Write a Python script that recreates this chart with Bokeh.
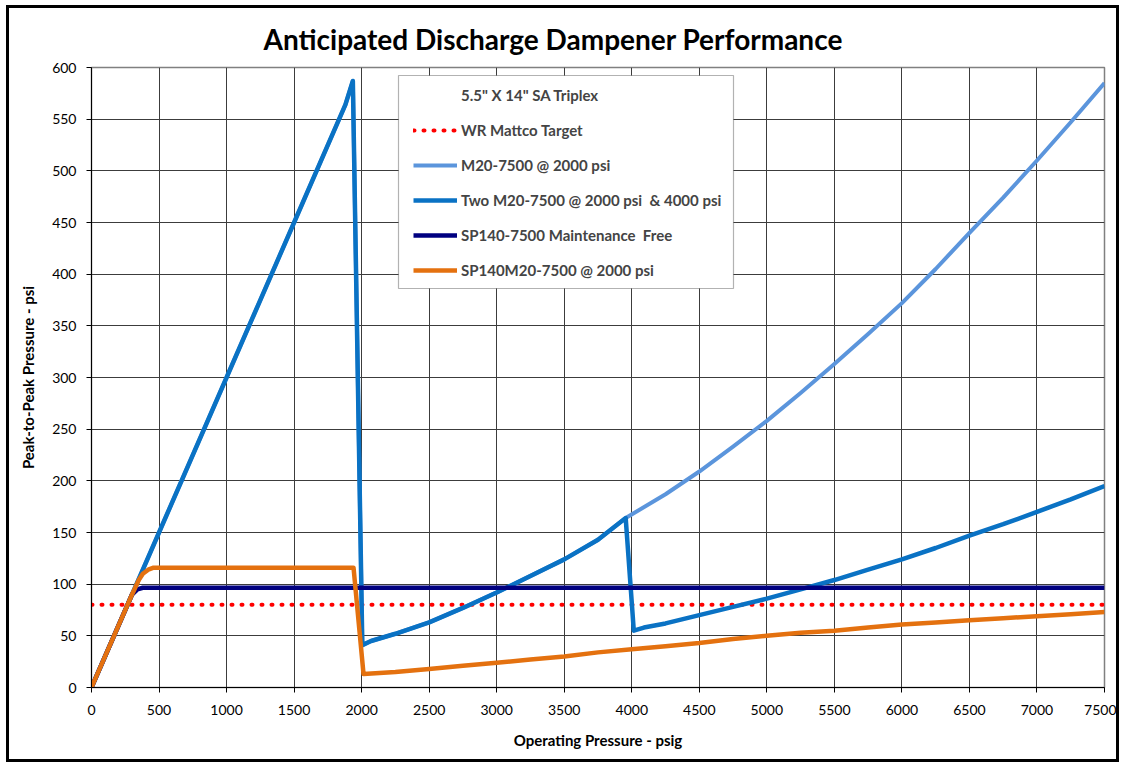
from bokeh.plotting import figure
from bokeh.models import (Range1d, FixedTicker, Legend, LegendItem, BoxAnnotation)
from bokeh.embed import file_html
from bokeh.resources import INLINE

# ---- data ----
target_x = [0, 7500]
target_y = [80, 80]

m20_x = [0, 500, 1000, 1500, 1880, 1935, 2005, 2070, 2250, 2500, 2750, 3000, 3250, 3500, 3750, 3955,
         4250, 4500, 4750, 5000, 5250, 5500, 5750, 6000, 6250, 6500, 6750, 7000, 7250, 7500]
m20_y = [0, 150, 300, 450, 564, 587, 41, 45, 52, 63, 77, 92, 108, 124, 143, 164,
         187, 209, 233, 258, 285, 313, 342, 372, 405, 440, 474, 510, 547, 585]

two_x = [0, 500, 1000, 1500, 1880, 1935, 2005, 2070, 2250, 2500, 2750, 3000, 3250, 3500, 3750, 3955,
         4015, 4090, 4250, 4500, 4750, 5000, 5250, 5500, 5750, 6000, 6250, 6500, 6750, 7000, 7250, 7500]
two_y = [0, 150, 300, 450, 564, 587, 41, 45, 52, 63, 77, 92, 108, 124, 143, 164,
         55, 58, 62, 70, 78, 86, 95, 104, 114, 124, 135, 147, 158, 170, 182, 195]

sp_x = [0, 300, 340, 380, 420, 7500]
sp_y = [0, 90, 95, 96.5, 96.5, 96.5]

spm_x = [0, 300, 350, 380, 420, 460, 500, 1940, 2014, 2250, 2500, 2750, 3000, 3250, 3500, 3750, 4000,
         4250, 4500, 4750, 5000, 5250, 5500, 5750, 6000, 6250, 6500, 6750, 7000, 7250, 7500]
spm_y = [0, 90, 104, 110, 114, 116, 116, 116, 13, 15, 18, 21, 24, 27, 30, 34, 37,
         40, 43, 47, 50, 53, 55, 58, 61, 63, 65, 67, 69, 71, 73]

x_ticks = list(range(0, 7501, 500))
y_ticks = list(range(0, 601, 50))

title_text = "Anticipated Discharge Dampener Performance"
legend_title = '5.5" X 14" SA Triplex'
labels = ["WR Mattco Target", "M20-7500 @ 2000 psi", "Two M20-7500 @ 2000 psi  & 4000 psi",
          "SP140-7500 Maintenance  Free", "SP140M20-7500 @ 2000 psi"]
x_label = "Operating Pressure - psig"
y_label = "Peak-to-Peak Pressure - psi"

FONT = "Lato"

p = figure(width=1113, height=757, output_backend="svg", toolbar_location=None,
           x_range=Range1d(0, 7500), y_range=Range1d(0, 600),
           min_border_left=82, min_border_right=18, min_border_top=59, min_border_bottom=78,
           title=title_text,
           styles={"border": "3px solid black", "margin": "5px 0px 0px 6px"})

p.title.text_font = FONT
p.title.text_font_size = "28px"
p.title.text_font_style = "bold"
p.title.text_color = "black"
p.title.align = "left"
p.title.offset = 172
p.title.standoff = 23

p.outline_line_color = "#808080"
p.outline_line_width = 1.5

p.xaxis.ticker = FixedTicker(ticks=x_ticks)
p.yaxis.ticker = FixedTicker(ticks=y_ticks)
for ax in (p.xaxis, p.yaxis):
    ax.major_label_text_font = FONT
    ax.major_label_text_font_size = "14px"
    ax.major_label_text_color = "black"
    ax.axis_line_color = "black"
    ax.major_tick_line_color = "black"
    ax.minor_tick_line_color = None
    ax.major_tick_in = 0
    ax.major_tick_out = 5
    ax.axis_label_text_font = FONT
    ax.axis_label_text_font_size = "15px"
    ax.axis_label_text_font_style = "bold"
    ax.axis_label_text_color = "black"
p.xaxis.major_label_standoff = 12
p.yaxis.major_label_standoff = 10
p.xaxis.axis_label = x_label
p.yaxis.axis_label = y_label
p.xaxis.axis_label_standoff = 13
p.yaxis.axis_label_standoff = 12

p.xgrid.ticker = FixedTicker(ticks=x_ticks)
p.ygrid.ticker = FixedTicker(ticks=y_ticks)
p.grid.grid_line_color = "#3c3c3c"
p.grid.grid_line_width = 1
p.grid.grid_line_alpha = 1

r_title = p.line([], [], line_alpha=0)
r_t = p.line(target_x, target_y, line_color="#FF0000", line_width=4, line_dash="1 9", line_cap="round")
r_m20 = p.line(m20_x, m20_y, line_color="#5B95DC", line_width=4, line_join="round")
r_two = p.line(two_x, two_y, line_color="#0A72C4", line_width=4.5, line_join="round")
r_sp = p.line(sp_x, sp_y, line_color="#000080", line_width=4.5, line_join="round")
r_spm = p.line(spm_x, spm_y, line_color="#E4710F", line_width=4.5, line_join="round")

# legend box
box = BoxAnnotation(left=307, right=642, bottom=399, top=612,
                    left_units="screen", right_units="screen", bottom_units="screen", top_units="screen",
                    fill_color="white", fill_alpha=1, line_color="black", line_width=1.2)
p.add_layout(box)

legend = Legend(items=[LegendItem(label=legend_title, renderers=[r_title]),
                       LegendItem(label=labels[0], renderers=[r_t]),
                       LegendItem(label=labels[1], renderers=[r_m20]),
                       LegendItem(label=labels[2], renderers=[r_two]),
                       LegendItem(label=labels[3], renderers=[r_sp]),
                       LegendItem(label=labels[4], renderers=[r_spm])],
                location=(322, 407), padding=0, margin=0, spacing=15,
                label_height=20, glyph_height=20, glyph_width=44, label_standoff=4,
                label_text_font=FONT, label_text_font_size="15px", label_text_font_style="bold",
                border_line_color=None, background_fill_alpha=0)
p.add_layout(legend, "center")

open("out.html", "w").write(file_html(p, INLINE))
